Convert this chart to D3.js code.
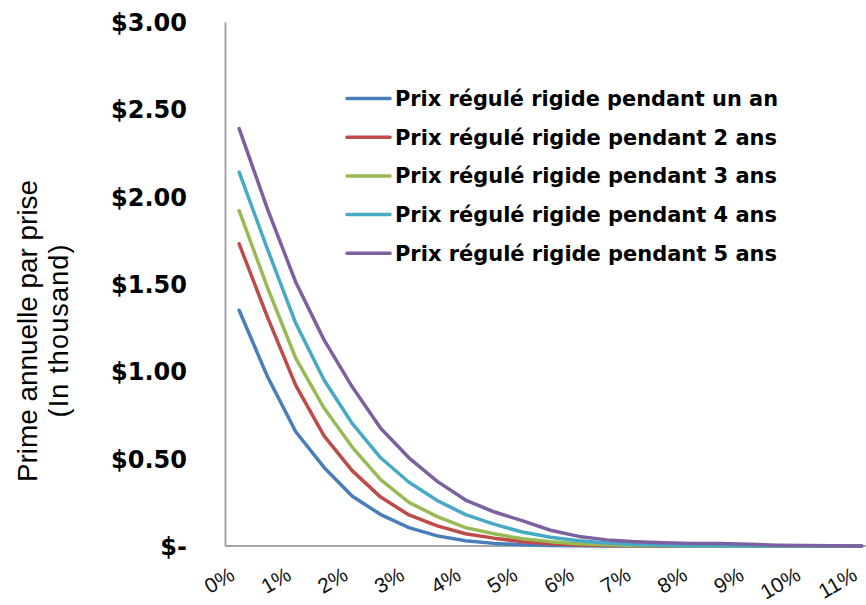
<!DOCTYPE html>
<html>
<head>
<meta charset="utf-8">
<script src="https://cdn.jsdelivr.net/npm/d3@7"></script>
<style>
  html, body { margin: 0; padding: 0; background: #fff; overflow: hidden; }
  svg { display: block; }
</style>
</head>
<body>
<script>
// ---- Data ----
const rates = [0,0.5,1,1.5,2,2.5,3,3.5,4,4.5,5,5.5,6,6.5,7,7.5,8,8.5,9,9.5,10,10.5,11];
const tickRates = [0,1,2,3,4,5,6,7,8,9,10,11];
const tickLabels = ["0%","1%","2%","3%","4%","5%","6%","7%","8%","9%","10%","11%"];
const yTicks = [0,0.5,1,1.5,2,2.5,3];
const yTickLabels = ["$-","$0.50","$1.00","$1.50","$2.00","$2.50","$3.00"];
const seriesNames = [
  "Prix régulé rigide pendant un an",
  "Prix régulé rigide pendant 2 ans",
  "Prix régulé rigide pendant 3 ans",
  "Prix régulé rigide pendant 4 ans",
  "Prix régulé rigide pendant 5 ans"
];
const oneYear   = [1.35,0.97,0.654,0.45,0.285,0.18,0.105,0.058,0.03,0.015,0.007,0.003,0.001,0,0,0,0,0,0,0,0,0,0];
const twoYears  = [1.73,1.31,0.92,0.63,0.43,0.28,0.178,0.115,0.07,0.045,0.025,0.013,0.006,0.003,0.001,0,0,0,0,0,0,0,0];
const threeYears= [1.92,1.48,1.075,0.79,0.565,0.38,0.25,0.168,0.105,0.07,0.042,0.025,0.013,0.007,0.003,0.001,0,0,0,0,0,0,0];
const fourYears = [2.14,1.70,1.275,0.95,0.70,0.505,0.365,0.26,0.18,0.125,0.08,0.05,0.03,0.017,0.009,0.004,0.002,0.001,0,0,0,0,0];
const fiveYears = [2.39,1.93,1.51,1.18,0.91,0.674,0.505,0.37,0.263,0.196,0.145,0.09,0.055,0.035,0.025,0.018,0.014,0.015,0.01,0.005,0.003,0.001,0];
const seriesValues = [oneYear, twoYears, threeYears, fourYears, fiveYears];
const colors = ["#4a7ebb","#be4b48","#98b954","#46aac5","#7d60a0"];
const yTitle = ["Prime annuelle par prise","(In thousand)"];

// ---- Layout ----
const W = 866, H = 605;
const plotLeft = 225, plotTop = 22, plotBottom = 546;
const step = 28.3;
const plotRight = plotLeft + step * rates.length;

const svg = d3.select("body").append("svg").attr("width", W).attr("height", H);

const x = d3.scaleBand().domain(rates).range([plotLeft, plotRight]).padding(0);
const xc = r => x(r) + x.bandwidth() / 2;
const y = d3.scaleLinear().domain([0, 3]).range([plotBottom, plotTop]);

// Y axis
const yAxis = d3.axisLeft(y).tickValues(yTicks)
  .tickFormat((d, i) => yTickLabels[i]).tickSize(0).tickPadding(38).tickSizeOuter(0);
const gy = svg.append("g").attr("transform", `translate(${plotLeft},0)`).call(yAxis);
gy.select(".domain").attr("stroke", "#a6a6a6").attr("stroke-width", 2);
gy.selectAll("text")
  .attr("font-family", "'DejaVu Sans', Verdana, sans-serif")
  .attr("font-weight", "bold").attr("font-size", 24).attr("fill", "#000")
  .attr("dy", "0.36em");

// X axis
const xAxis = d3.axisBottom(x).tickValues(tickRates)
  .tickFormat((d, i) => tickLabels[i]).tickSize(0).tickSizeOuter(0);
const gx = svg.append("g").attr("transform", `translate(0,${plotBottom})`).call(xAxis);
gx.select(".domain").attr("stroke", "#a6a6a6").attr("stroke-width", 2)
  .attr("d", `M${plotLeft},0H${plotRight}`);
gx.selectAll(".tick text")
  .attr("font-family", "'Liberation Sans', Arial, sans-serif")
  .attr("font-size", 21).attr("fill", "#111")
  .attr("text-anchor", "end")
  .attr("y", 0).attr("dy", 0)
  .attr("transform", "translate(-3,33) rotate(-30)");

// Lines
const line = d3.line().x((d, i) => xc(rates[i])).y(d => y(d));
svg.append("g").selectAll("path").data(seriesValues).join("path")
  .attr("d", d => line(d))
  .attr("fill", "none")
  .attr("stroke", (d, i) => colors[i])
  .attr("stroke-width", 3.5)
  .attr("stroke-linejoin", "round")
  .attr("stroke-linecap", "round");

// Legend
const lg = svg.append("g");
const rowY = i => 98.5 + i * 38.7;
seriesNames.forEach((name, i) => {
  lg.append("line").attr("x1", 347).attr("x2", 390)
    .attr("y1", rowY(i)).attr("y2", rowY(i))
    .attr("stroke", colors[i]).attr("stroke-width", 3.5).attr("stroke-linecap", "round");
  lg.append("text").attr("x", 395).attr("y", rowY(i)).attr("dy", "0.36em")
    .attr("font-family", "'DejaVu Sans', Verdana, sans-serif")
    .attr("font-weight", "bold").attr("font-size", 21).attr("fill", "#000")
    .attr("textLength", i === 0 ? 383 : 382).attr("lengthAdjust", "spacingAndGlyphs")
    .text(name);
});

// Y title
const tg = svg.append("g").attr("transform", "translate(0,331)");
tg.append("text").attr("transform", "translate(37,0) rotate(-90)")
  .attr("text-anchor", "middle")
  .attr("font-family", "'Liberation Sans', Arial, sans-serif").attr("font-size", 27).attr("fill", "#000")
  .attr("textLength", 302).attr("lengthAdjust", "spacingAndGlyphs")
  .text(yTitle[0]);
tg.append("text").attr("transform", "translate(68,0) rotate(-90)")
  .attr("text-anchor", "middle")
  .attr("font-family", "'Liberation Sans', Arial, sans-serif").attr("font-size", 27).attr("fill", "#000")
  .attr("textLength", 173).attr("lengthAdjust", "spacing")
  .text(yTitle[1]);
</script>
</body>
</html>
